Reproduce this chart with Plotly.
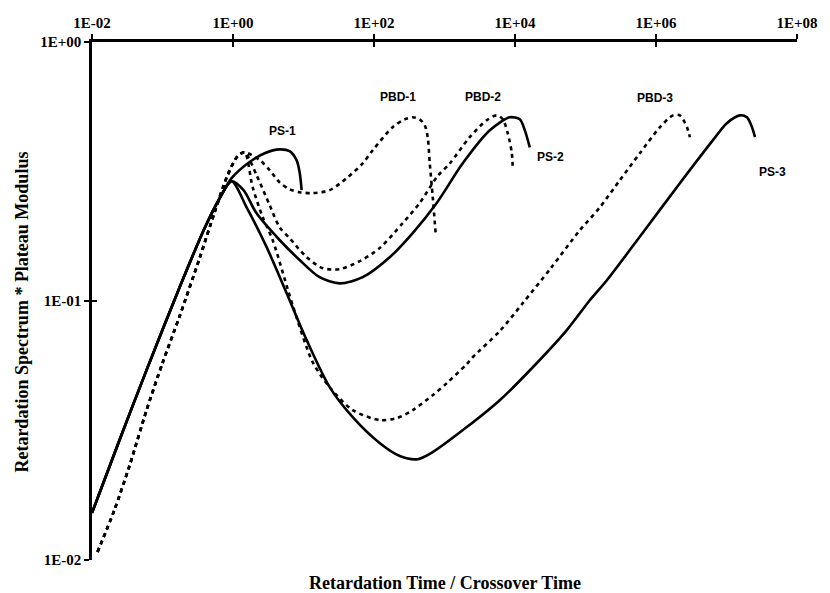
import math
import plotly.graph_objects as go

# ---- data ----
ps1_x = [0.01, 0.0245, 0.0594, 0.175, 0.395, 0.645, 0.955, 1.72, 2.81, 4.58, 6.35, 8.0, 8.81, 9.41]
ps1_y = [0.0152, 0.029, 0.0541, 0.113, 0.191, 0.249, 0.298, 0.344, 0.372, 0.385, 0.379, 0.349, 0.314, 0.268]

ps2_x = [0.01, 0.0245, 0.0594, 0.175, 0.395, 0.645, 0.955, 1.41, 2.16, 4.58, 8.81, 16.9, 32.6, 69.2,
         167, 354, 776, 1815, 4390, 8430, 11700, 13800, 16200]
ps2_y = [0.0152, 0.029, 0.0541, 0.113, 0.191, 0.249, 0.290, 0.268, 0.218, 0.172, 0.144, 0.1236, 0.117, 0.1236,
         0.1476, 0.183, 0.239, 0.340, 0.456, 0.512, 0.503, 0.456, 0.392]

ps3_x = [0.01, 0.0245, 0.0594, 0.175, 0.395, 0.645, 0.955, 1.56, 3.0, 5.77, 11.1, 23.5, 49.9, 120, 232, 417,
         681, 2070, 6080, 17900, 54300, 115000, 201000, 743000, 2.18e6, 6.43e6, 1.01e7, 1.55e7, 1.95e7,
         2.30e7, 2.54e7]
ps3_y = [0.0152, 0.029, 0.0541, 0.113, 0.191, 0.249, 0.290, 0.230, 0.1614, 0.1072, 0.0706, 0.0465, 0.0356,
         0.0283, 0.0252, 0.0245, 0.0261, 0.0326, 0.0414, 0.0555, 0.0772, 0.1007, 0.1203, 0.1927, 0.285,
         0.418, 0.486, 0.521, 0.512, 0.469, 0.429]

pbd1_x = [0.01197, 0.0208, 0.034, 0.0594, 0.100, 0.175, 0.336, 0.548, 0.838, 1.16, 1.46, 2.39, 3.31, 4.58,
          6.35, 8.81, 13.5, 23.5, 40.9, 69.2, 95.9, 184, 273, 354, 445, 525, 578, 618, 681, 751]
pbd1_y = [0.01074, 0.0156, 0.0231, 0.0379, 0.0576, 0.0874, 0.1464, 0.220, 0.306, 0.362, 0.375, 0.350, 0.320,
          0.287, 0.270, 0.263, 0.261, 0.268, 0.298, 0.340, 0.382, 0.469, 0.503, 0.512, 0.503, 0.477, 0.429,
          0.340, 0.252, 0.181]

pbd2_x = [0.01197, 0.0208, 0.034, 0.0594, 0.100, 0.175, 0.336, 0.548, 0.838, 1.16, 1.46, 2.16, 3.31, 4.58,
          6.35, 11.1, 18.7, 32.6, 62.7, 120, 255, 445, 776, 1190, 2280, 3980, 5520, 6710, 7900, 9010, 9310]
pbd2_y = [0.01074, 0.0156, 0.0231, 0.0379, 0.0576, 0.0874, 0.1464, 0.220, 0.306, 0.362, 0.375, 0.306, 0.2344,
          0.1927, 0.1748, 0.1476, 0.1339, 0.1327, 0.1425, 0.160, 0.1997, 0.239, 0.3006, 0.340, 0.429, 0.499,
          0.521, 0.503, 0.444, 0.372, 0.320]

pbd3_x = [0.01197, 0.0208, 0.034, 0.0594, 0.100, 0.175, 0.336, 0.548, 0.838, 1.16, 1.46, 1.90, 2.63, 3.65,
          7.01, 13.5, 23.5, 49.9, 120, 210, 354, 681, 1080, 2070, 2520, 6080, 12900, 32200, 83200, 160000,
          307000, 590000, 1.14e6, 1.74e6, 2.18e6, 2.75e6, 3.03e6]
pbd3_y = [0.01074, 0.0156, 0.0231, 0.0379, 0.0576, 0.0874, 0.1464, 0.220, 0.306, 0.362, 0.375, 0.275, 0.211,
          0.172, 0.0964, 0.0581, 0.0465, 0.0379, 0.0347, 0.0353, 0.0379, 0.0433, 0.0482, 0.0571, 0.0607,
          0.0765, 0.0981, 0.1339, 0.1877, 0.230, 0.2926, 0.372, 0.469, 0.521, 0.521, 0.469, 0.429]

labels = ["PS-1", "PBD-1", "PBD-2", "PS-2", "PBD-3", "PS-3"]
label_x = [5.06, 217, 3490, 32200, 9.64e5, 4.42e7]
label_y = [0.452, 0.612, 0.612, 0.359, 0.606, 0.314]

x_tickvals = [1e-2, 1e0, 1e2, 1e4, 1e6, 1e8]
x_ticktext = ["1E-02", "1E+00", "1E+02", "1E+04", "1E+06", "1E+08"]
y_tickvals = [1e-2, 1e-1, 1e0]
y_ticktext = ["1E-02", "1E-01", "1E+00"]

x_title = "Retardation Time / Crossover Time"
y_title = "Retardation Spectrum * Plateau Modulus"

# ---- figure ----
fig = go.Figure()

series = [
    (ps1_x, ps1_y, "solid"), (ps2_x, ps2_y, "solid"), (ps3_x, ps3_y, "solid"),
    (pbd1_x, pbd1_y, "4px,4px"), (pbd2_x, pbd2_y, "4px,4px"), (pbd3_x, pbd3_y, "4px,4px"),
]
for xs, ys, dash in series:
    fig.add_trace(go.Scatter(
        x=xs, y=ys, mode="lines",
        line=dict(color="black", width=2.6, dash=dash, shape="spline", smoothing=0.8),
        showlegend=False, hoverinfo="skip", cliponaxis=False,
    ))

# invisible trace for the overlay axes (inside half of the crossing ticks)
fig.add_trace(go.Scatter(x=[], y=[], xaxis="x2", yaxis="y2", showlegend=False))

# annotation positions on log axes are given in log10 units
for t, lx, ly in zip(labels, label_x, label_y):
    fig.add_annotation(x=math.log10(lx), y=math.log10(ly), xref="x", yref="y", text="<b>" + t + "</b>",
                       showarrow=False,
                       font=dict(family="Liberation Sans, Arial", size=12, color="black"))

serif = "Liberation Serif, Times New Roman, serif"
fig.add_annotation(x=0.5, y=-0.044, xref="paper", yref="paper", text="<b>" + x_title + "</b>",
                   showarrow=False, font=dict(family=serif, size=18, color="black"),
                   xanchor="center", yanchor="middle")
fig.add_annotation(x=-0.099, y=0.478, xref="paper", yref="paper", text="<b>" + y_title + "</b>",
                   showarrow=False, textangle=-90, font=dict(family=serif, size=18, color="black"),
                   xanchor="center", yanchor="middle")

axis_common = dict(showgrid=False, zeroline=False, showline=True, linecolor="black", linewidth=2.5,
                   ticks="outside", ticklen=5, tickwidth=2, tickcolor="black")

fig.update_layout(
    width=830, height=593,
    margin=dict(l=92, r=33, t=42, b=33),
    paper_bgcolor="white", plot_bgcolor="white",
    xaxis=dict(type="log", range=[-2, 8], side="top", tickvals=x_tickvals,
               ticktext=["<b>" + s + "</b>" for s in x_ticktext],
               tickfont=dict(family=serif, size=15, color="black"), anchor="y", **axis_common),
    yaxis=dict(type="log", range=[-2, 0], side="left", tickvals=y_tickvals,
               ticktext=["<b>" + s + "</b>" for s in y_ticktext],
               tickfont=dict(family=serif, size=15, color="black"), anchor="x", **axis_common),
    xaxis2=dict(type="log", range=[-2, 8], overlaying="x", side="top", tickvals=x_tickvals,
                showticklabels=False, showgrid=False, zeroline=False, showline=False,
                ticks="inside", ticklen=5, tickwidth=2, tickcolor="black", anchor="y2"),
    yaxis2=dict(type="log", range=[-2, 0], overlaying="y", side="left", tickvals=y_tickvals,
                showticklabels=False, showgrid=False, zeroline=False, showline=False,
                ticks="inside", ticklen=5, tickwidth=2, tickcolor="black", anchor="x2"),
)

fig.write_html("out.html")
